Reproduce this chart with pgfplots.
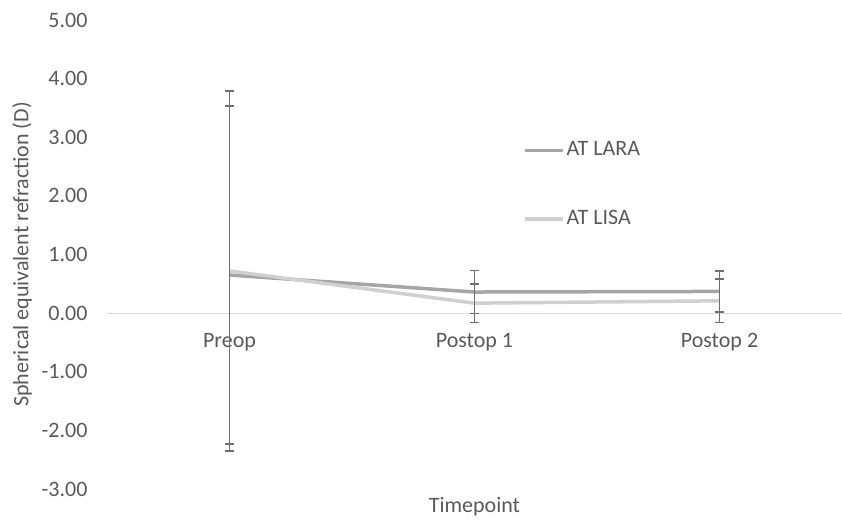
\documentclass[border=0pt]{standalone}
\usepackage{pgfplots}
\pgfplotsset{compat=1.18}
\usepackage{fontspec}
\setmainfont{Carlito}
\definecolor{txt}{HTML}{595959}
\definecolor{lara}{HTML}{A5A5A5}
\definecolor{lisa}{HTML}{D0D0D0}
\definecolor{err}{HTML}{6F6F6F}
\definecolor{zero}{HTML}{D9D9D9}
\begin{document}
\fontsize{22}{26}\selectfont
\begin{tikzpicture}
	\useasboundingbox (-107pt,-30pt) rectangle (735pt,489pt);
	\begin{axis}[
		scale only axis,
		width=735pt,
		height=469pt,
		xmin=-0.5, xmax=2.5,
		ymin=-3, ymax=5,
		axis x line=middle,
		axis y line=left,
		x axis line style={draw=zero, line width=1pt, -},
		y axis line style={draw=none},
		major tick length=0pt,
		xtick={0,1,2},
		xticklabels={Preop, Postop 1, Postop 2},
		ytick={-3,-2,-1,0,1,2,3,4,5},
		yticklabel style={/pgf/number format/fixed, /pgf/number format/fixed zerofill, /pgf/number format/precision=2},
		/pgf/number format/assume math mode=true,
		ticklabel style={text=txt, font=\fontsize{22}{26}\selectfont},
		xticklabel style={yshift=-13pt},
		yticklabel style={xshift=-12pt},
		xlabel={Timepoint},
		ylabel={Spherical equivalent refraction (D)},
		label style={text=txt, font=\fontsize{22}{26}\selectfont},
		xlabel style={at={(axis description cs:0.5,-0.038)}, anchor=center},
		ylabel style={at={(axis description cs:-0.1156,0.5)}, anchor=center},
		clip=false,
		legend cell align=left,
		legend style={draw=none, fill=none, inner sep=0pt, row sep=47pt,
			at={(axis description cs:0.566,0.649)}, anchor=west,
			nodes={inner sep=2pt, text=txt, font=\fontsize{22}{26}\selectfont}},
		legend image code/.code={\draw[#1] (0pt,0pt) -- (38pt,0pt);},
		]
		% mean values
		\addplot[lara, line width=3.5pt] table[x=x, y=y] {
			x y
			0 0.65
			1 0.36
			2 0.37
		};
		\addlegendentry{AT LARA}
		\addplot[lisa, line width=3.5pt] table[x=x, y=y] {
			x y
			0 0.72
			1 0.17
			2 0.21
		};
		\addlegendentry{AT LISA}
		% error bars on top
		\addplot[draw=none, forget plot,
			error bars/.cd, y dir=both, y explicit,
			error bar style={draw=err, line width=1.5pt},
			error mark options={rotate=90, mark size=4.5pt, draw=err, line width=1.5pt}]
			table[x=x, y=y, y error=e] {
			x y e
			0 0.65 2.88
			1 0.36 0.37
			2 0.37 0.35
		};
		\addplot[draw=none, forget plot,
			error bars/.cd, y dir=both, y explicit,
			error bar style={draw=err, line width=1.5pt},
			error mark options={rotate=90, mark size=4.5pt, draw=err, line width=1.5pt}]
			table[x=x, y=y, y error=e] {
			x y e
			0 0.72 3.07
			1 0.17 0.33
			2 0.21 0.37
		};
	\end{axis}
\end{tikzpicture}
\end{document}
